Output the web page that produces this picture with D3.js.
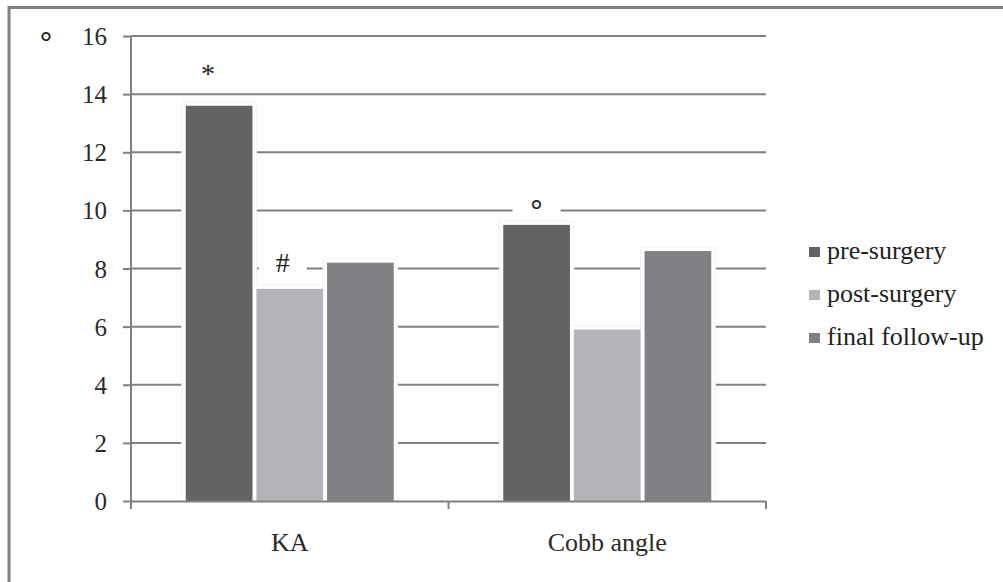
<!DOCTYPE html>
<html>
<head>
<meta charset="utf-8">
<script src="https://cdn.jsdelivr.net/npm/d3@7"></script>
<style>
  html, body { margin: 0; padding: 0; background: #fff; }
  svg { display: block; }
  text { font-family: "Liberation Serif", "Times New Roman", serif; }
</style>
</head>
<body>
<svg id="chart" width="1003" height="582"></svg>
<script>
// ---- data ----
const categories = ["KA", "Cobb angle"];
const seriesNames = ["pre-surgery", "post-surgery", "final follow-up"];
const preSurgery = [13.6, 9.5];
const postSurgery = [7.3, 5.9];
const finalFollowUp = [8.2, 8.6];
const yTicks = [0, 2, 4, 6, 8, 10, 12, 14, 16];
const unitLabel = "°";
// annotations: category index, series index, label
const annoCategory = [0, 0, 1];
const annoSeries = [0, 1, 0];
const annoLabel = ["*", "#", "°"];

// ---- styles ----
const colors = ["#636365", "#b3b4b7", "#808184"];
const gridColor = "#808080";
const serif = "'Liberation Serif', 'Times New Roman', serif";
const values = [preSurgery, postSurgery, finalFollowUp];

const svg = d3.select("#chart");
const margin = { left: 131, right: 237, top: 36, bottom: 81 };
const W = 1003, H = 582;
const plotW = W - margin.left - margin.right;
const plotH = H - margin.top - margin.bottom;

// outer frame (top and left edges visible)
svg.append("line").attr("x1", 9).attr("x2", W).attr("y1", 7.5).attr("y2", 7.5)
  .attr("stroke", gridColor).attr("stroke-width", 3);
svg.append("line").attr("x1", 9).attr("x2", 9).attr("y1", 6).attr("y2", H)
  .attr("stroke", gridColor).attr("stroke-width", 3);

const g = svg.append("g").attr("transform", `translate(${margin.left},${margin.top})`);

const y = d3.scaleLinear().domain([0, 16]).range([plotH, 0]);
const x0 = d3.scaleBand().domain(categories).range([0, plotW]).paddingInner(0).paddingOuter(0);
const x1 = d3.scaleBand().domain(d3.range(seriesNames.length))
  .range([0, x0.bandwidth()]).paddingInner(0.056).paddingOuter(0.775);

// gridlines
g.append("g").selectAll("line").data(yTicks.filter(d => d > 0)).join("line")
  .attr("x1", 0).attr("x2", plotW)
  .attr("y1", d => y(d)).attr("y2", d => y(d))
  .attr("stroke", gridColor).attr("stroke-width", 2);

// y axis
const yAxis = g.append("g").call(d3.axisLeft(y).tickValues(yTicks).tickSize(8).tickPadding(16).tickFormat(d3.format("d")));
yAxis.attr("font-family", null);
yAxis.select(".domain").remove();
yAxis.selectAll(".tick line").attr("stroke", gridColor).attr("stroke-width", 2);
yAxis.selectAll(".tick text").attr("font-size", 25).attr("fill", "#2a2a2a").attr("dy", "0.34em")
  .style("font-family", serif);
g.append("line").attr("x1", 0).attr("x2", 0).attr("y1", 0).attr("y2", plotH + 8)
  .attr("stroke", gridColor).attr("stroke-width", 2);

// bars
const groups = g.append("g").selectAll("g").data(categories).join("g")
  .attr("transform", d => `translate(${x0(d)},0)`);
groups.each(function(cat, ci) {
  const gg = d3.select(this);
  seriesNames.forEach((s, si) => {
    const v = values[si][ci];
    const bx = x1(si), bw = x1.bandwidth();
    // glow
    gg.append("rect").attr("x", bx - 4).attr("y", y(v) - 4)
      .attr("width", bw + 8).attr("height", plotH - y(v) + 4)
      .attr("fill", "#fff").attr("stroke", "#f3f3f3").attr("stroke-width", 1);
  });
  seriesNames.forEach((s, si) => {
    const v = values[si][ci];
    gg.append("rect").attr("x", x1(si)).attr("y", y(v))
      .attr("width", x1.bandwidth()).attr("height", plotH - y(v))
      .attr("fill", colors[si]);
  });
});

// x axis
g.append("line").attr("x1", 0).attr("x2", plotW).attr("y1", plotH + 0.5).attr("y2", plotH + 0.5)
  .attr("stroke", gridColor).attr("stroke-width", 2);
const xTickPos = [0, x0.bandwidth(), plotW];
g.append("g").selectAll("line").data(xTickPos).join("line")
  .attr("x1", d => d).attr("x2", d => d).attr("y1", plotH).attr("y2", plotH + 8)
  .attr("stroke", gridColor).attr("stroke-width", 2);
g.append("g").selectAll("text").data(categories).join("text")
  .attr("x", d => x0(d) + x0.bandwidth() / 2).attr("y", plotH + 50)
  .attr("text-anchor", "middle").attr("font-size", 26).attr("fill", "#2a2a2a")
  .text(d => d);

// annotations
const annoDy = [-38, -27, -24];
const annoDx = [-11, -7, 0];
const annoSize = [28, 28, 30];
annoLabel.forEach((lab, i) => {
  const ci = annoCategory[i], si = annoSeries[i];
  const cx = x0(categories[ci]) + x1(si) + x1.bandwidth() / 2 + annoDx[i];
  const v = values[si][ci];
  const cy = y(v) + annoDy[i];
  if (lab !== "*") {
    g.append("rect").attr("x", cx - 24).attr("y", cy - 12).attr("width", 48).attr("height", 26)
      .attr("fill", "#fff");
  }
  const t = g.append("text").attr("x", cx).attr("y", cy)
    .attr("text-anchor", "middle").attr("font-size", annoSize[i]).attr("fill", "#222")
    .text(lab);
  if (lab === "*") t.attr("dy", "0.55em");
  else if (lab === "#") t.attr("dy", "0.35em");
  else t.attr("dy", "0.62em").attr("font-weight", "bold");
});

// unit label top-left
svg.append("text").attr("x", 46).attr("y", 52).attr("text-anchor", "middle")
  .attr("font-size", 30).attr("font-weight", "bold").attr("fill", "#222").text(unitLabel);

// legend
const legend = svg.append("g").attr("transform", "translate(809,247)");
seriesNames.forEach((s, i) => {
  const row = legend.append("g").attr("transform", `translate(0,${i * 43})`);
  row.append("rect").attr("width", 11).attr("height", 10).attr("fill", colors[i]);
  row.append("text").attr("x", 18).attr("y", 12).attr("font-size", 26).attr("fill", "#222").text(s);
});
</script>
</body>
</html>
